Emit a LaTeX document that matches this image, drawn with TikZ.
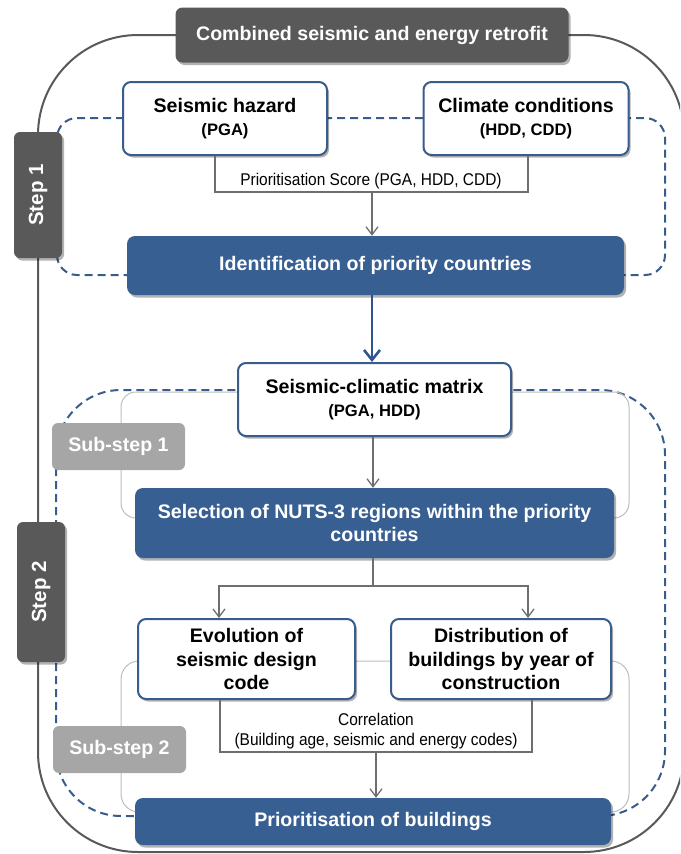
\documentclass[tikz,border=0pt]{standalone}
\usepackage{fontspec}
\setmainfont{Liberation Sans}
\newfontfamily\narrowfam[FakeStretch=0.91]{Liberation Sans}
\usetikzlibrary{arrows.meta,shadows,calc}
\definecolor{dgray}{HTML}{595959}
\definecolor{bfill}{HTML}{375F92}
\definecolor{bline}{HTML}{385D8A}
\definecolor{barrow}{HTML}{2F5490}
\definecolor{lgray}{HTML}{A6A6A6}
\definecolor{cgray}{HTML}{6E6E6E}
\definecolor{tgray}{HTML}{BDBDBD}
\newcommand{\bigb}{\fontsize{19.6}{23.5}\selectfont\bfseries}
\newcommand{\stepb}{\fontsize{20.5}{24}\selectfont\bfseries}
\newcommand{\smb}{\fontsize{16.6}{20}\selectfont\bfseries}
\newcommand{\regf}{\narrowfam\fontsize{17}{19.5}\selectfont}
\begin{document}
\begin{tikzpicture}[x=1pt,y=-1pt,
  shadowed/.style={drop shadow={shadow xshift=2pt,shadow yshift=-2.5pt,opacity=0.3,fill=black}},
  whitebox/.style={draw=bline,line width=2pt,fill=white,rounded corners=8pt,shadowed,align=center,inner sep=0pt,font=\bigb},
  bluebox/.style={fill=bfill,rounded corners=8pt,shadowed,text=white,align=center,inner sep=0pt,font=\bigb},
  titlebox/.style={fill=dgray,rounded corners=7pt,shadowed,text=white,inner sep=0pt,font=\bigb},
  stepbox/.style={fill=dgray,rounded corners=6pt,shadowed,text=white,inner sep=0pt,font=\stepb,rotate=90},
  subbox/.style={fill=lgray,rounded corners=6pt,text=white,inner sep=0pt,font=\bigb},
  frame/.style={draw=dgray,line width=2pt},
  dashframe/.style={draw=bline,line width=2pt,dash pattern=on 8pt off 5pt},
  thinframe/.style={draw=tgray,line width=1pt},
  conn/.style={draw=cgray,line width=1.3pt},
  arr/.style={conn,-{Straight Barb[length=8pt,width=12pt,line width=1.3pt]}},
  bigarr/.style={draw=barrow,line width=2.6pt,-{Straight Barb[length=10pt,width=16pt,line width=2.6pt]}},
  lbl/.style={inner sep=0pt,font=\regf,align=center}]
\useasboundingbox (0,0) rectangle (680,854);
\clip (0,0) rectangle (680,854);

% frames
\draw[frame,rounded corners=100pt] (38,35) rectangle (684,852);
\draw[dashframe,rounded corners=20pt] (57,118) rectangle (665,275);
\draw[dashframe,rounded corners=65pt] (56,390) rectangle (665,816);
\draw[thinframe,rounded corners=15pt] (121,392) rectangle (629,518);
\draw[thinframe,rounded corners=18pt] (121,661) rectangle (629,812);

% nodes
\node[titlebox,minimum width=393,minimum height=55] (title) at (372,35) {Combined seismic and energy retrofit};
\node[stepbox,minimum width=126,minimum height=48] (step1) at (38,195) {Step 1};
\node[stepbox,minimum width=140,minimum height=48] (step2) at (41,592) {Step 2};

\node[whitebox,minimum width=204,minimum height=73] (sh) at (225,118.5) {Seismic hazard\\[-1pt]{\smb (PGA)}};
\node[whitebox,minimum width=205,minimum height=73] (cc) at (526,118.5) {Climate conditions\\[-1pt]{\smb (HDD, CDD)}};
\node[bluebox,minimum width=497,minimum height=59] (id) at (375.5,265.5) {Identification of priority countries};

\node[whitebox,minimum width=273,minimum height=73] (scm) at (374.5,399.5) {Seismic-climatic matrix\\[-1pt]{\smb (PGA, HDD)}};
\node[subbox,minimum width=133,minimum height=47] (sub1) at (118.5,446.5) {Sub-step 1};
\node[bluebox,minimum width=479,minimum height=70] (sel) at (374.5,523) {Selection of NUTS-3 regions within the priority\\countries};

\node[whitebox,minimum width=217,minimum height=80] (evo) at (246.5,659) {Evolution of\\seismic design\\code};
\node[whitebox,minimum width=220,minimum height=80] (dist) at (501,659) {Distribution of\\buildings by year of\\construction};
\node[subbox,minimum width=133,minimum height=47] (sub2) at (119.5,749.5) {Sub-step 2};
\node[bluebox,minimum width=476,minimum height=47] (prio) at (373,821.5) {Prioritisation of buildings};

% step 1 connectors
\coordinate (j1) at (372,192);
\coordinate (j1l) at (215,192);
\coordinate (j1r) at (528,192);
\draw[conn] (j1l |- sh.south) -- (j1l) -- (j1r) -- (j1r |- cc.south);
\node[lbl,anchor=base] (ps) at (371,185.5) {Prioritisation Score (PGA, HDD, CDD)};
\draw[arr] (j1) -- (j1 |- id.north);

\draw[bigarr] (j1 |- id.south) -- (j1 |- scm.north);

% step 2 connectors
\coordinate (j2) at (373,586);
\coordinate (j2l) at (219,586);
\coordinate (j2r) at (528,586);
\draw[arr] (j2 |- scm.south) -- (j2 |- sel.north);
\draw[conn] (j2 |- sel.south) -- (j2);
\draw[arr] (j2) -- (j2l) -- (j2l |- evo.north);
\draw[arr] (j2) -- (j2r) -- (j2r |- dist.north);

\coordinate (j3) at (376,752);
\coordinate (j3l) at (220,752);
\coordinate (j3r) at (532,752);
\draw[conn] (j3l |- evo.south) -- (j3l) -- (j3r) -- (j3r |- dist.south);
\node[lbl] (corr) at (376,731) {Correlation\\(Building age, seismic and energy codes)};
\draw[arr] (j3) -- (j3 |- prio.north);
\end{tikzpicture}
\end{document}
